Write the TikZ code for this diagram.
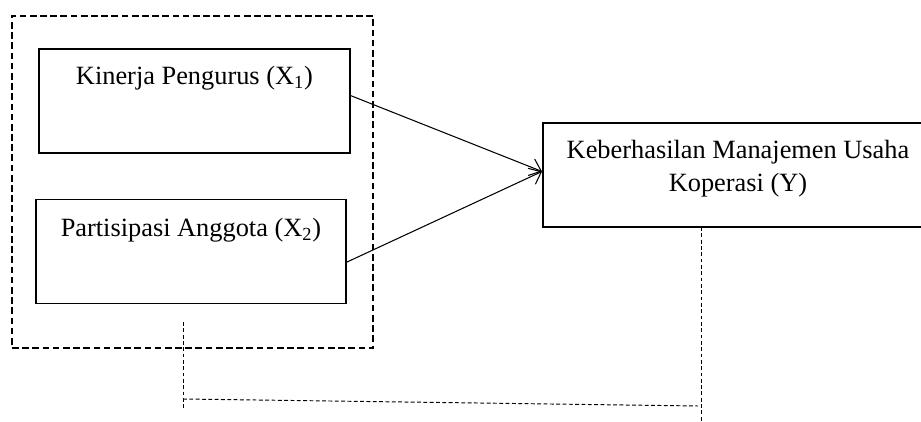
\documentclass[tikz,border=0pt]{standalone}
\usepackage{fontspec}
\setmainfont{Liberation Serif}
\usepackage{tikz}
\usetikzlibrary{arrows.meta, positioning, calc}

\begin{document}
\begin{tikzpicture}[
    font=\fontsize{15}{18.8}\selectfont,
    varbox/.style={draw, line width=1.1pt, minimum height=2.08cm, inner sep=0pt},
    outerbox/.style={draw, line width=0.7pt, dash pattern=on 3.8pt off 2pt, minimum width=7.22cm, minimum height=6.64cm, inner sep=0pt},
    link/.style={line width=0.6pt, -{Straight Barb[length=6pt, width=10pt]}},
    guide/.style={line width=0.55pt, dash pattern=on 2.2pt off 1.4pt}
]
    \useasboundingbox (0,0) rectangle (18.42,-8.44);

    % Independent variables
    \node[outerbox] (grp) at (3.85,-3.64) {};
    \node[varbox, minimum width=6.22cm] (x1) at (3.89,-2.02) {};
    \node[varbox, minimum width=6.20cm] (x2) at (3.82,-5.03) {};
    \node (x1txt) at (3.89,-1.56) {Kinerja Pengurus (X\textsubscript{1})};
    \node (x2txt) at (3.82,-4.60) {Partisipasi Anggota (X\textsubscript{2})};

    % Dependent variable
    \node[varbox, minimum width=7.74cm] (y) at (14.73,-3.50) {};
    \node[align=center] (ytxt) at (14.76,-3.37) {Keberhasilan Manajemen Usaha\\Koperasi (Y)};

    % Arrows
    \draw[link] ([yshift=3pt]x1.east) -- ([yshift=2pt]y.west);
    \draw[link] ([yshift=-6pt]x2.east) -- ([yshift=2pt]y.west);

    % Simultaneous link
    \coordinate (r1) at (14.02,-4.54);
    \coordinate (r2) at (14.02,-8.44);
    \coordinate (m2) at (13.96,-8.12);
    \coordinate (l1) at (3.66,-6.44);
    \coordinate (l2) at (3.66,-8.16);
    \coordinate (m1) at (3.66,-7.98);
    \draw[guide] (r1) -- (r2);
    \draw[guide] (l1) -- (l2);
    \draw[guide] (m1) -- (m2);
\end{tikzpicture}
\end{document}
